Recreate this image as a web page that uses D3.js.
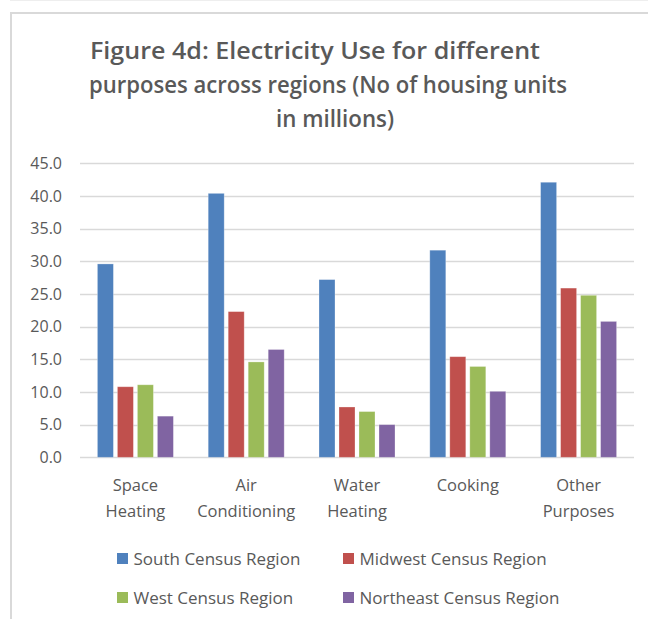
<!DOCTYPE html>
<html>
<head>
<meta charset="utf-8">
<script src="https://cdn.jsdelivr.net/npm/d3@7"></script>
<style>
  body { margin: 0; background: #fff; }
  svg text { font-family: "Open Sans", sans-serif; fill: #595959; }
</style>
</head>
<body>
<svg id="chart" width="648" height="619"></svg>
<script>
// Chart data
var purposes = [["Space", "Heating"], ["Air", "Conditioning"], ["Water", "Heating"], ["Cooking"], ["Other", "Purposes"]];
var regions = ["South Census Region", "Midwest Census Region", "West Census Region", "Northeast Census Region"];
var south = [29.6, 40.4, 27.2, 31.7, 42.1];
var midwest = [10.8, 22.3, 7.7, 15.4, 25.9];
var west = [11.1, 14.6, 7.0, 13.9, 24.8];
var northeast = [6.3, 16.5, 5.0, 10.1, 20.8];
var yTicks = [0, 5, 10, 15, 20, 25, 30, 35, 40, 45];
var titleLines = ["Figure 4d: Electricity Use for different", "purposes across regions (No of housing units", "in millions)"];

var colors = ["#4F81BD", "#C0504D", "#9BBB59", "#8064A2"];
var series = [south, midwest, west, northeast];

var svg = d3.select("#chart");

// frame lines
svg.append("line").attr("x1", 10).attr("x2", 648).attr("y1", 0.5).attr("y2", 0.5)
    .attr("stroke", "#eeeeee").attr("stroke-width", 1);
svg.append("path").attr("d", "M11,619V13H648")
    .attr("fill", "none").attr("stroke", "#d9d9d9").attr("stroke-width", 2);

// title (Calibri-like narrow widths, squeezed to fit)
var titleX = [315, 328, 335];
var titleW = [450, 478, 118];
svg.append("g").selectAll("text")
    .data(titleLines)
    .enter().append("text")
      .attr("x", function(d, i) { return titleX[i]; })
      .attr("y", function(d, i) { return 59 + i * 34; })
      .attr("text-anchor", "middle")
      .attr("font-size", 23)
      .attr("font-weight", 600)
      .attr("textLength", function(d, i) { return titleW[i]; })
      .attr("lengthAdjust", "spacingAndGlyphs")
      .text(function(d) { return d; });

var plotLeft = 80, plotRight = 634, plotTop = 163.3, plotBottom = 457.3;

var y = d3.scaleLinear().domain([0, 45]).range([plotBottom, plotTop]);
var x0 = d3.scaleBand().domain(d3.range(purposes.length)).range([plotLeft, plotRight])
    .paddingInner(0.278).paddingOuter(0.139);
var x1 = d3.scaleBand().domain(d3.range(regions.length)).range([0, x0.bandwidth()])
    .paddingInner(0.2).paddingOuter(0.1);

// gridlines
svg.append("g").selectAll("line")
    .data(yTicks)
    .enter().append("line")
      .attr("x1", plotLeft).attr("x2", plotRight)
      .attr("y1", function(d) { return Math.round(y(d)) + 0.5; })
      .attr("y2", function(d) { return Math.round(y(d)) + 0.5; })
      .attr("stroke", "#d9d9d9").attr("stroke-width", 1.3);

// y axis labels
var yAxis = d3.axisLeft(y).tickValues(yTicks).tickSize(0).tickPadding(0)
    .tickFormat(d3.format(".1f"));
var yg = svg.append("g").attr("transform", "translate(62,0)").call(yAxis);
yg.select(".domain").remove();
yg.selectAll("text")
    .attr("font-size", 16)
    .attr("fill", "#595959")
    .style("font-family", "'Open Sans', sans-serif");

// bars
var groups = svg.append("g").selectAll("g")
    .data(purposes)
    .enter().append("g")
      .attr("transform", function(d, i) { return "translate(" + x0(i) + ",0)"; });

groups.selectAll("rect")
    .data(function(d, i) { return series.map(function(s, j) { return { k: j, v: s[i] }; }); })
    .enter().append("rect")
      .attr("x", function(d) { return x1(d.k); })
      .attr("width", x1.bandwidth())
      .attr("y", function(d) { return y(d.v); })
      .attr("height", function(d) { return y(0) - y(d.v); })
      .attr("fill", function(d) { return colors[d.k]; })
      .attr("stroke", "#ffffff")
      .attr("stroke-opacity", 0.35)
      .attr("stroke-width", 0.8);

// category labels
groups.append("text")
    .attr("x", x0.bandwidth() / 2)
    .attr("text-anchor", "middle")
    .attr("font-size", 16.5)
  .selectAll("tspan")
    .data(function(d) { return d; })
    .enter().append("tspan")
      .attr("x", x0.bandwidth() / 2)
      .attr("y", function(d, i) { return 491 + i * 26; })
      .text(function(d) { return d; });

// legend
var legendX = [117, 343], legendY = [553, 592];
var legend = svg.append("g").selectAll("g")
    .data(regions)
    .enter().append("g")
      .attr("transform", function(d, i) {
        return "translate(" + legendX[i % 2] + "," + legendY[Math.floor(i / 2)] + ")";
      });

legend.append("rect")
    .attr("width", 11).attr("height", 11)
    .attr("fill", function(d, i) { return colors[i]; });

legend.append("text")
    .attr("x", 16.5).attr("y", 11.5)
    .attr("font-size", 17)
    .text(function(d) { return d; });
</script>
</body>
</html>
